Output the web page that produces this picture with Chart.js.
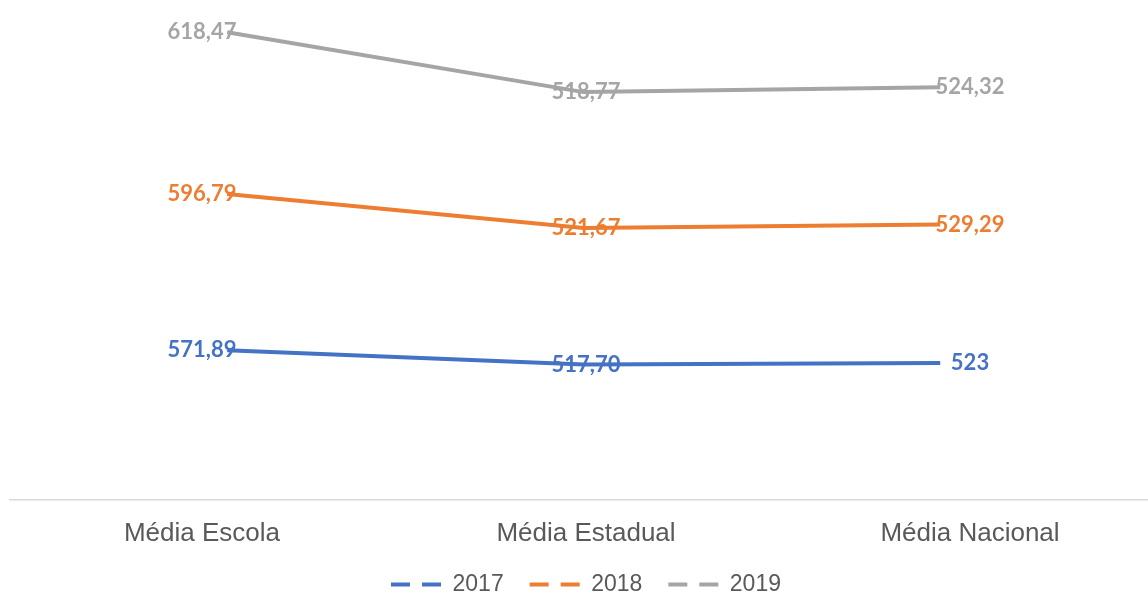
<!DOCTYPE html>
<html>
<head>
<meta charset="utf-8">
<script src="https://cdn.jsdelivr.net/npm/chart.js@4.4.1/dist/chart.umd.min.js"></script>
<style>
  html, body { margin: 0; padding: 0; background: #fff; overflow: hidden; }
  #wrap { width: 1162px; height: 594px; }
</style>
</head>
<body>
<div id="wrap"><canvas id="proficiencyChart"></canvas></div>
<script>
  // Data
  const categories = ["Média Escola", "Média Estadual", "Média Nacional"];
  const seriesNames = ["2017", "2018", "2019"];
  const values2017 = [571.89, 517.70, 523];
  const values2018 = [596.79, 521.67, 529.29];
  const values2019 = [618.47, 518.77, 524.32];
  const seriesColors = ["#4472C4", "#ED7D31", "#A5A5A5"];

  const allValues = [values2017, values2018, values2019];

  // labels like "571,89" (comma decimal, "523" stays whole)
  function fmt(v) {
    return Number.isInteger(v) ? String(v) : v.toFixed(2).replace('.', ',');
  }

  const valueLabels = {
    id: 'valueLabels',
    afterDatasetsDraw(chart) {
      const c = chart.ctx;
      const xs = chart.scales.x;
      c.save();
      c.font = 'bold 22px Lato';
      c.textAlign = 'center';
      c.textBaseline = 'middle';
      chart.data.datasets.forEach((ds, di) => {
        const meta = chart.getDatasetMeta(di);
        c.fillStyle = ds.borderColor;
        meta.data.forEach((pt, i) => {
          c.fillText(fmt(allValues[di][i]), xs.getPixelForValue(i), pt.y);
        });
      });
      c.restore();
    }
  };

  const ctx = document.getElementById('proficiencyChart').getContext('2d');

  new Chart(ctx, {
    type: 'line',
    data: {
      labels: categories,
      datasets: allValues.map((vals, i) => ({
        label: seriesNames[i],
        data: vals.map((v, j) => ({ x: j, y: v })),
        xAxisID: 'xp',
        borderColor: seriesColors[i],
        backgroundColor: seriesColors[i],
        borderWidth: 4,
        borderCapStyle: 'butt',
        pointRadius: 0,
        fill: false,
        tension: 0
      }))
    },
    options: {
      responsive: true,
      maintainAspectRatio: false,
      animation: false,
      layout: { padding: { left: 10, right: 0, top: 0, bottom: -12 } },
      plugins: {
        tooltip: { enabled: false },
        legend: {
          position: 'bottom',
          labels: {
            usePointStyle: true,
            pointStyleWidth: 50,
            padding: 26,
            color: '#595959',
            font: { family: 'Liberation Sans', size: 23 },
            generateLabels(chart) {
              const items = Chart.defaults.plugins.legend.labels.generateLabels(chart);
              items.forEach((it, i) => {
                it.pointStyle = 'line';
                it.lineDash = [19, 12];
                it.lineWidth = 4;
                it.lineCap = 'butt';
                it.strokeStyle = seriesColors[i];
              });
              return items;
            }
          }
        }
      },
      scales: {
        x: {
          type: 'category',
          offset: true,
          grid: { display: false, drawTicks: false },
          border: { display: true, color: '#D9D9D9', width: 1.5 },
          ticks: { color: '#595959', padding: 18, font: { family: 'Liberation Sans', size: 26 } },
          afterFit(s) { s.height = 47; }
        },
        xp: {
          type: 'linear',
          display: false,
          min: -0.609,
          max: 2.622
        },
        y: {
          stacked: true,
          display: false,
          min: 0,
          max: 1910
        }
      }
    },
    plugins: [valueLabels]
  });
</script>
</body>
</html>
